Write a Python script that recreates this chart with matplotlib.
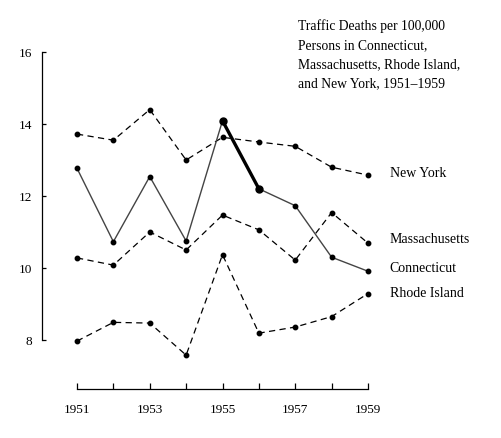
import numpy as np
import matplotlib.pyplot as plt

years = [1951, 1952, 1953, 1954, 1955, 1956, 1957, 1958, 1959]
new_york = [13.72, 13.55, 14.40, 13.00, 13.63, 13.50, 13.38, 12.80, 12.58]
connecticut = [12.77, 10.73, 12.54, 10.75, 14.09, 12.20, 11.73, 10.30, 9.91]
massachusetts = [10.28, 10.08, 11.00, 10.50, 11.47, 11.06, 10.22, 11.54, 10.69]
rhode_island = [7.97, 8.49, 8.47, 7.58, 10.37, 8.19, 8.36, 8.65, 9.29]

series_names = ['New York', 'Massachusetts', 'Connecticut', 'Rhode Island']
label_y = [12.65, 10.82, 10.0, 9.33]
yticks = [8, 10, 12, 14, 16]
xlabels = [1951, 1953, 1955, 1957, 1959]
title = ('Traffic Deaths per 100,000\nPersons in Connecticut,\n'
         'Massachusetts, Rhode Island,\nand New York, 1951\u20131959')

plt.rcParams['font.family'] = ['Liberation Serif', 'DejaVu Serif']

fig = plt.figure(figsize=(5.02, 4.39), dpi=100)
ax = fig.add_axes([42/502, 49/439, 326/502, 337/439])

dash = (0, (5, 3.5))
for vals in (new_york, massachusetts, rhode_island):
    ax.plot(years, vals, color='black', lw=0.9, linestyle=dash,
            marker='o', ms=3.2, clip_on=False)

ax.plot(years, connecticut, color='#444444', lw=1.0, marker='o',
        ms=3.2, mfc='black', mec='black', clip_on=False)
ax.plot(years[4:6], connecticut[4:6], color='black', lw=2.4,
        marker='o', ms=5, clip_on=False)

for name, yv in zip(series_names, label_y):
    ax.text(1959.6, yv, name, fontsize=10, va='center', ha='left')

fig.text(298/502, 1 - 19/439, title, fontsize=9.8, va='top', ha='left',
         linespacing=1.62)

ax.set_xlim(1951 - 35/36.375, 1959)
ax.set_ylim(16 - 337/36, 16)
ax.spines['top'].set_visible(False)
ax.spines['right'].set_visible(False)
ax.spines['left'].set_bounds(8, 16)
ax.spines['bottom'].set_bounds(1951, 1959)
for s in ('left', 'bottom'):
    ax.spines[s].set_linewidth(0.9)

ax.set_yticks(yticks)
ax.set_yticklabels([str(t) for t in yticks])
ax.set_xticks(years)
ax.set_xticklabels([str(y) if y in xlabels else '' for y in years])
ax.tick_params(axis='y', direction='in', length=3, width=0.9, pad=7,
               labelsize=9.5)
ax.tick_params(axis='x', direction='in', length=4, width=0.9, pad=10,
               labelsize=9.5)

fig.savefig('out.png', dpi=100)
